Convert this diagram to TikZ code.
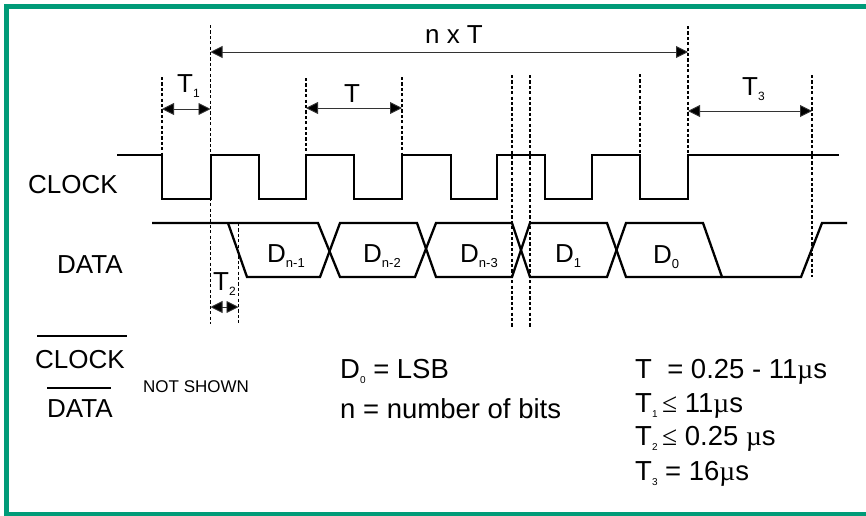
\documentclass[tikz,border=0pt]{standalone}
\usepackage{fontspec}
\setmainfont{Liberation Sans}
\newfontfamily\symf{Liberation Serif}
\usetikzlibrary{arrows.meta}
\definecolor{framegreen}{RGB}{0,155,120}
\newcommand\mysub[2][12]{\raisebox{-5pt}{\fontsize{#1}{#1}\selectfont #2}}
\tikzset{
  sig/.style={line width=2.3pt, line join=miter, line cap=butt},
  guide/.style={line width=1.7pt, dash pattern=on 3.2pt off 2.2pt},
  dim/.style={line width=0.9pt, draw=black!80,
    {Triangle[length=12pt,width=12pt,fill=black]}-{Triangle[length=12pt,width=12pt,fill=black]}},
  lbl/.style={font=\fontsize{26}{26}\selectfont, inner sep=0pt, anchor=base west},
  leg/.style={font=\fontsize{27.5}{27.5}\selectfont, inner sep=0pt, anchor=base west},
  small/.style={font=\fontsize{17}{17}\selectfont, inner sep=0pt, anchor=base west},
}
\begin{document}
\begin{tikzpicture}[x=1pt,y=-1pt]
\useasboundingbox (0,0) rectangle (866,515);
\draw[framegreen, line width=5pt, line cap=butt] (866,6.5) -- (6.5,6.5) -- (6.5,514.5) -- (866,514.5);

% guide coordinates
\coordinate (g1t) at (162,77);   \coordinate (g1b) at (162,155);
\coordinate (g2t) at (210.5,25); \coordinate (g2b) at (210.5,324);
\coordinate (g3t) at (238.5,223);\coordinate (g3b) at (238.5,324);
\coordinate (g4t) at (306,78);   \coordinate (g4b) at (306,155);
\coordinate (g5t) at (402,77);   \coordinate (g5b) at (402,155);
\coordinate (g6t) at (512,75);   \coordinate (g6b) at (512,327);
\coordinate (g7t) at (530,75);   \coordinate (g7b) at (530,327);
\coordinate (g8t) at (640,74);   \coordinate (g8b) at (640,155);
\coordinate (g9t) at (688,26);   \coordinate (g9b) at (688,155);
\coordinate (g10t) at (812,75);  \coordinate (g10b) at (812,277);

\foreach \g in {1,...,10} \draw[guide] (g\g t) -- (g\g b);

% clock waveform
\draw[sig] (117,155) -- (162,155) -- (162,199) -- (211,199) -- (211,155) -- (259,155)
  -- (259,199) -- (306,199) -- (306,155) -- (354,155) -- (354,199) -- (402,199)
  -- (402,155) -- (451,155) -- (451,199) -- (497,199) -- (497,155) -- (545,155)
  -- (545,199) -- (592,199) -- (592,155) -- (640,155) -- (640,199) -- (688,199)
  -- (688,155) -- (839,155);

% data waveform
\draw[sig] (152,223) -- (318,223) -- (340,277) -- (415,277) -- (436,223) -- (512,223)
  -- (530,277) -- (607,277) -- (626,223) -- (703,223) -- (722,277) -- (801,277)
  -- (822,223) -- (847,223);
\draw[sig] (228,223) -- (247,277) -- (320,277) -- (340,223) -- (417,223) -- (436,277)
  -- (512,277) -- (530,223) -- (607,223) -- (626,277) -- (722,277);

% dimension arrows
\coordinate (nL) at (210.5,52);  \coordinate (nR) at (688,52);
\coordinate (t1L) at (162,109);  \coordinate (t1R) at (210.5,109);
\coordinate (tL) at (306,108);   \coordinate (tR) at (402,108);
\coordinate (t3L) at (688,111);  \coordinate (t3R) at (812,111);
\coordinate (t2L) at (210.5,307);\coordinate (t2R) at (238.5,307);
\draw[dim] (nL) -- (nR);
\draw[dim] (t1L) -- (t1R);
\draw[dim] (tL) -- (tR);
\draw[dim] (t3L) -- (t3R);
\draw[dim] (t2L) -- (t2R);

% labels
\node[lbl, anchor=base] (lnT) at (454,43) {n x T};
\node[lbl] (lT1) at (177,92) {T\mysub{1}};
\node[lbl, anchor=base] (lT) at (352,102) {T};
\node[lbl] (lT3) at (742,95) {T\mysub{3}};
\node[lbl] (lT2) at (213,290) {T\mysub{2}};

\node[lbl] (lclk) at (28,193) {CLOCK};
\node[lbl] (ldata) at (57,273) {DATA};

\node[lbl] (d1) at (267,262) {D\mysub[13]{n-1}};
\node[lbl] (d2) at (363,262) {D\mysub[13]{n-2}};
\node[lbl] (d3) at (460,262) {D\mysub[13]{n-3}};
\node[lbl] (d4) at (555,262) {D\mysub[13]{1}};
\node[lbl] (d5) at (653,263) {D\mysub[13]{0}};

% bottom legend
\node[lbl] (nclk) at (35,368) {CLOCK};
\draw[line width=1.8pt] (37,336) -- (127,336);
\node[lbl] (ndata) at (47,417) {DATA};
\draw[line width=1.8pt] (47,388) -- (111,388);
\node[small] (ns) at (143,392) {NOT SHOWN};

\node[leg] (lsb) at (340,378) {D\mysub[10]{0} = LSB};
\node[leg] (nb) at (340,418) {n = number of bits};

\node[leg] (r1) at (635,378) {T \ = 0.25 - 11{\symf µ}s};
\node[leg] (r2) at (635,412) {T\mysub[10]{1}\,{\symf ≤} 11{\symf µ}s};
\node[leg] (r3) at (635,445) {T\mysub[10]{2}\,{\symf ≤} 0.25 {\symf µ}s};
\node[leg] (r4) at (635,480) {T\mysub[10]{3} = 16{\symf µ}s};
\end{tikzpicture}
\end{document}
